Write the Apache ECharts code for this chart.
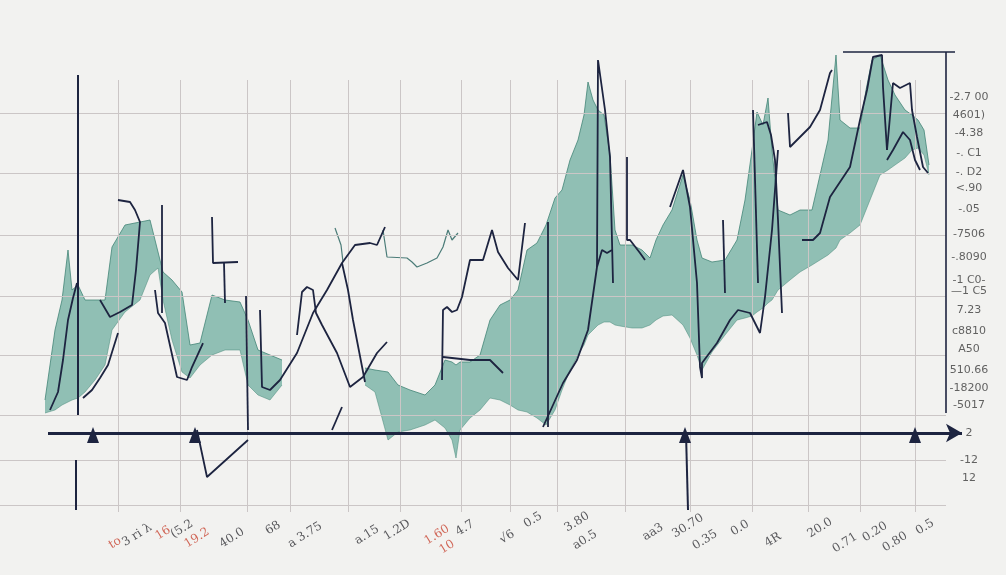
<!DOCTYPE html>
<html><head><meta charset="utf-8">
<script src="https://cdn.jsdelivr.net/npm/echarts@6/dist/echarts.min.js"></script>
<style>html,body{margin:0;padding:0;background:#f2f2f0;}#c{width:1006px;height:575px;}</style>
</head><body><div id="c"></div>
<script>
// ---- reference lines (chart scale: x 0..1006, y 0..575) ----
const gridYs = [462, 402, 340, 279, 220, 160, 115, 70];
const gridXs = [118, 180, 247, 290, 348, 400, 461, 510, 557, 625, 690, 752, 808, 860, 915];
const markerXs = [93, 195, 685, 915];

// ---- teal band (x, upper, lower); null = gap ----
const bandX =     [45,55,62,68,72,78,85,95,105,112,125,140,150,158,163,172,182,190,200,212,225,240,248,258,270,282,300,365,375,388,398,410,425,435,445,452,456,460,470,480,490,500,510,518,527,537,546,555,562,570,578,584,588,593,598,604,610,615,620,632,642,650,656,663,672,683,690,697,702,712,725,737,745,752,757,763,768,772,778,790,800,812,820,828,836,840,850,860,866,872,880,888,895,905,912,918,924,929];
const bandUpper = [175,245,275,325,285,290,275,275,275,328,350,353,355,323,303,295,283,230,232,280,275,273,255,225,220,215,null,207,205,203,190,185,180,190,215,213,210,213,213,220,255,270,275,285,325,332,350,377,385,415,435,460,493,475,465,460,420,345,330,330,325,317,335,350,365,400,375,335,317,313,315,335,375,425,463,450,477,425,365,360,365,365,400,435,520,455,447,447,485,515,520,495,480,465,460,455,445,410];
const bandLower = [162,165,170,173,175,177,183,195,210,245,263,275,300,307,275,235,203,197,210,220,225,225,190,180,175,190,null,190,183,135,143,145,150,155,147,135,117,145,157,165,177,175,170,165,163,157,150,165,185,205,220,230,240,245,250,253,253,250,249,247,247,250,255,259,260,250,237,220,205,223,240,255,257,259,263,267,272,275,285,295,303,310,315,320,327,335,342,350,365,380,400,405,410,417,425,427,420,400];

// ---- dark price line pieces ----
const darkSegments = [
  [[50,165],[58,183],[63,215],[68,255],[73,277],[77,292]],
  [[83,177],[92,185],[100,197],[108,210],[118,242]],
  [[100,275],[110,258],[120,263],[132,270],[136,305],[140,353],[135,365],[130,373],[118,375]],
  [[162,370],[162,262]],
  [[155,285],[158,262],[165,252],[177,198],[187,195],[192,208],[203,232]],
  [[212,358],[213,312],[238,313]],
  [[224,312],[225,272]],
  [[246,279],[248,145]],
  [[197,145],[207,98],[248,135]],
  [[260,265],[262,188],[270,185],[280,195],[297,222],[313,262],[327,285],[342,312],[355,330],[370,332],[377,330],[385,348]],
  [[297,240],[302,283],[307,288],[313,285],[316,262],[322,250],[337,222],[350,188],[363,198],[377,222],[387,233]],
  [[342,312],[348,285],[353,255],[365,193]],
  [[332,145],[342,168]],
  [[442,195],[443,265],[447,268],[452,263],[457,265],[462,278],[470,315],[483,315],[492,345],[498,323],[508,307],[518,295],[525,352]],
  [[443,218],[470,215],[490,215],[503,202]],
  [[548,148],[548,353]],
  [[543,148],[553,170],[563,192],[577,215],[588,245],[597,308],[602,325],[607,322],[612,325]],
  [[597,308],[598,515],[605,465],[610,418],[613,292]],
  [[627,418],[627,335],[630,335],[640,322],[645,315]],
  [[670,368],[683,405],[690,368],[697,292],[700,208],[702,197],[702,212],[717,232],[730,255],[738,265],[750,262],[760,242],[765,278],[772,345],[778,425]],
  [[723,355],[725,282]],
  [[753,465],[758,292]],
  [[758,450],[767,453],[771,440],[775,415],[778,355],[782,262]],
  [[788,462],[790,428],[810,448],[820,465],[830,502],[832,505]],
  [[802,335],[813,335],[820,342],[830,378],[850,408],[860,455],[867,485],[873,518],[882,520],[883,488],[887,425]],
  [[887,425],[893,492],[900,487],[910,492],[912,465],[917,438],[923,408],[928,402]],
  [[887,415],[893,425],[903,443],[910,435],[915,415],[920,405]]
];
const thinSegments = [
  [[335,347],[341,330],[343,313]],
  [[383,345],[387,318],[407,317],[412,313],[417,308],[427,312],[437,317],[443,328],[448,345],[452,335],[458,342]]
];
const frameSegments = [
  [[78,500],[78,160]],
  [[76,115],[76,65]],
  [[686,142],[688,65]],
  [[946,523],[946,162]],
  [[843,523],[955,523]]
];

// ---- tick label texts ----
const rightLabels = ['-2.7 00','4601)','-4.38','-. C1','-. D2','<.90','-.05','-7506','-.8090','-1 C0-','—1 C5','7.23','c8810','A50','510.66','-18200','-5017'];
const rightLabelYs = [478,460,442,422,403,387,366,341,318,295,284,265,244,226,205,187,170];
const sideLabels = ['2','-12','12'];
const sideLabelYs = [142,115,97];
const bottomLabels = ['to','3 ri λ','16','(5.2','19.2','40.0','68','a 3.75','a.15','1.2D','1.60','10','4.7','√6','0.5','3.80','a0.5','aa3','30.70','0.35','0.0','4R','20.0','0.71','0.20','0.80','0.5'];
const bottomLabelXs = [115,137,163,182,197,232,273,305,367,397,437,447,465,507,533,577,585,653,688,705,740,773,820,845,875,895,925];
const bottomLabelYs = [32,40,42,46,37,37,47,40,40,45,40,28,47,38,55,53,35,43,49,35,47,35,47,32,43,33,48];
const bottomRed = [true,false,true,false,true,false,false,false,false,false,true,true,false,false,false,false,false,false,false,false,false,false,false,false,false,false,false];

const DARK = '#1d2440';
const chart = echarts.init(document.getElementById('c'), null, {renderer:'canvas'});

const series = [];
// grid lines
series.push({
  type:'line', data:[], silent:true, symbol:'none',
  markLine:{
    silent:true, symbol:['none','none'], label:{show:false}, animation:false,
    lineStyle:{color:'#cbc6c6', width:1, type:'solid'},
    data: gridYs.map(y=>[{coord:[0,y]},{coord:[946,y]}])
      .concat(gridXs.map(x=>[{coord:[x,495]},{coord:[x,63]}]))
  }
});
// teal band
series.push({
  type:'custom', coordinateSystem:'cartesian2d', data:[[0,0]], silent:true, z:2, animation:false,
  renderItem:function(params, api){
    const children = [];
    let run = [];
    const flush = function(){
      if (run.length > 1) {
        const up = run.map(i=>api.coord([bandX[i], bandUpper[i]]));
        const lo = run.map(i=>api.coord([bandX[i], bandLower[i]])).reverse();
        children.push({type:'polygon', shape:{points: up.concat(lo)}, style:{fill:'rgba(92,164,148,0.66)'}});
        children.push({type:'polyline', shape:{points: up}, style:{stroke:'rgba(60,128,113,0.75)', lineWidth:1, fill:null}});
        children.push({type:'polyline', shape:{points: lo.slice().reverse()}, style:{stroke:'rgba(70,135,120,0.5)', lineWidth:1, fill:null}});
      }
      run = [];
    };
    bandX.forEach(function(x,i){ if (bandUpper[i] == null) flush(); else run.push(i); });
    flush();
    return {type:'group', children: children};
  }
});
// thin teal-grey lines
thinSegments.forEach(function(seg){
  series.push({type:'line', data:seg, symbol:'none', silent:true, z:4, animation:false,
    lineStyle:{color:'#4b7c78', width:1.2}});
});
// dark lines
darkSegments.forEach(function(seg){
  series.push({type:'line', data:seg, symbol:'none', silent:true, z:5, animation:false,
    lineStyle:{color:DARK, width:1.8}});
});
// frame lines
frameSegments.forEach(function(seg, k){
  series.push({type:'line', data:seg, symbol:'none', silent:true, z:6, animation:false,
    lineStyle:{color:DARK, width: k < 3 ? 2 : 1.6}});
});
// x axis with arrow
series.push({
  type:'line', data:[], silent:true, symbol:'none', z:7,
  markLine:{
    silent:true, animation:false, symbol:['none','arrow'], symbolSize:[14,16], label:{show:false},
    lineStyle:{color:DARK, width:3, type:'solid'},
    data:[[{coord:[48,142]},{coord:[962,142]}]]
  }
});
// upward markers
series.push({
  type:'scatter', silent:true, z:8, animation:false,
  symbol:'triangle', symbolSize:[12,16], itemStyle:{color:DARK, opacity:1},
  data: markerXs.map(x=>[x,140])
});
// right labels
series.push({
  type:'scatter', silent:true, z:8, animation:false, symbolSize:1, itemStyle:{color:'rgba(0,0,0,0)'},
  label:{show:true, position:'inside', formatter:p=>p.name, color:'#3c3c3c', fontSize:11, fontFamily:'DejaVu Sans'},
  data: rightLabels.map((t,i)=>({name:t, value:[969, rightLabelYs[i]]}))
    .concat(sideLabels.map((t,i)=>({name:t, value:[969, sideLabelYs[i]]})))
});
// bottom rotated labels
series.push({
  type:'scatter', silent:true, z:8, animation:false, symbolSize:1, itemStyle:{color:'rgba(0,0,0,0)'},
  label:{show:true, position:'inside', rotate:32, formatter:p=>p.name, fontSize:12, fontFamily:'DejaVu Serif'},
  data: bottomLabels.map((t,i)=>({name:t, value:[bottomLabelXs[i], bottomLabelYs[i]],
    label:{color: bottomRed[i] ? '#c8422f' : '#2f2f35'}}))
});

chart.setOption({
  backgroundColor:'#f2f2f0',
  animation:false,
  grid:{left:0,right:0,top:0,bottom:0},
  xAxis:{type:'value', min:0, max:1006, show:false},
  yAxis:{type:'value', min:0, max:575, show:false},
  series: series
});
</script></body></html>
